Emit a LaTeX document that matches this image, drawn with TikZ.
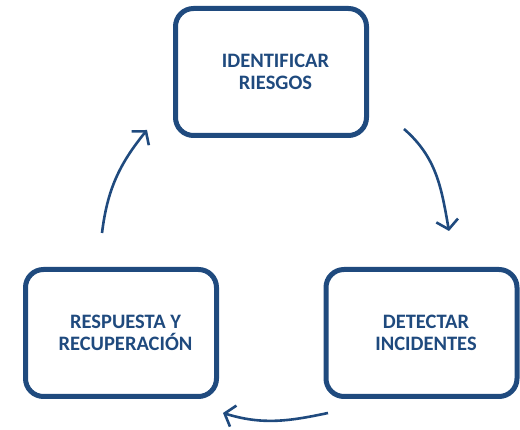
\documentclass[tikz,border=0pt]{standalone}
\usepackage{fontspec}
\setmainfont{Carlito}
\usetikzlibrary{arrows.meta}
\definecolor{dblue}{HTML}{1F4A7E}
\begin{document}
\begin{tikzpicture}[x=1pt,y=1pt,
  stagebox/.style={draw=dblue, line width=5pt, rounded corners=18pt,
    minimum width=191pt, minimum height=127pt, align=center,
    text=dblue, font=\fontsize{20.5}{22}\selectfont\bfseries},
  cyclearrow/.style={draw=dblue, line width=2.6pt,
    -{Straight Barb[length=9pt,width=22pt,line width=2.6pt]}}]
\useasboundingbox (0,0) rectangle (520,430);
\node[stagebox] (ident) at (271,358) {\hspace*{9pt}IDENTIFICAR\\\hspace*{9pt}RIESGOS};
\node[stagebox] (detect) at (421.5,97) {\hspace*{9pt}DETECTAR\\\hspace*{9pt}INCIDENTES};
\node[stagebox] (resp) at (121,97) {\hspace*{9pt}RESPUESTA Y\\\hspace*{9pt}RECUPERACIÓN};
\coordinate (a1s) at (404,301);
\coordinate (a1e) at (449,199);
\coordinate (a2s) at (328,17);
\coordinate (a2e) at (223,17);
\coordinate (a3s) at (102,197);
\coordinate (a3e) at (147,300);
\draw[cyclearrow] (a1s) to[out=-41,in=100] (a1e);
\draw[cyclearrow] (a2s) to[out=192,in=-17] (a2e);
\draw[cyclearrow] (a3s) to[out=83,in=231] (a3e);
\end{tikzpicture}
\end{document}
